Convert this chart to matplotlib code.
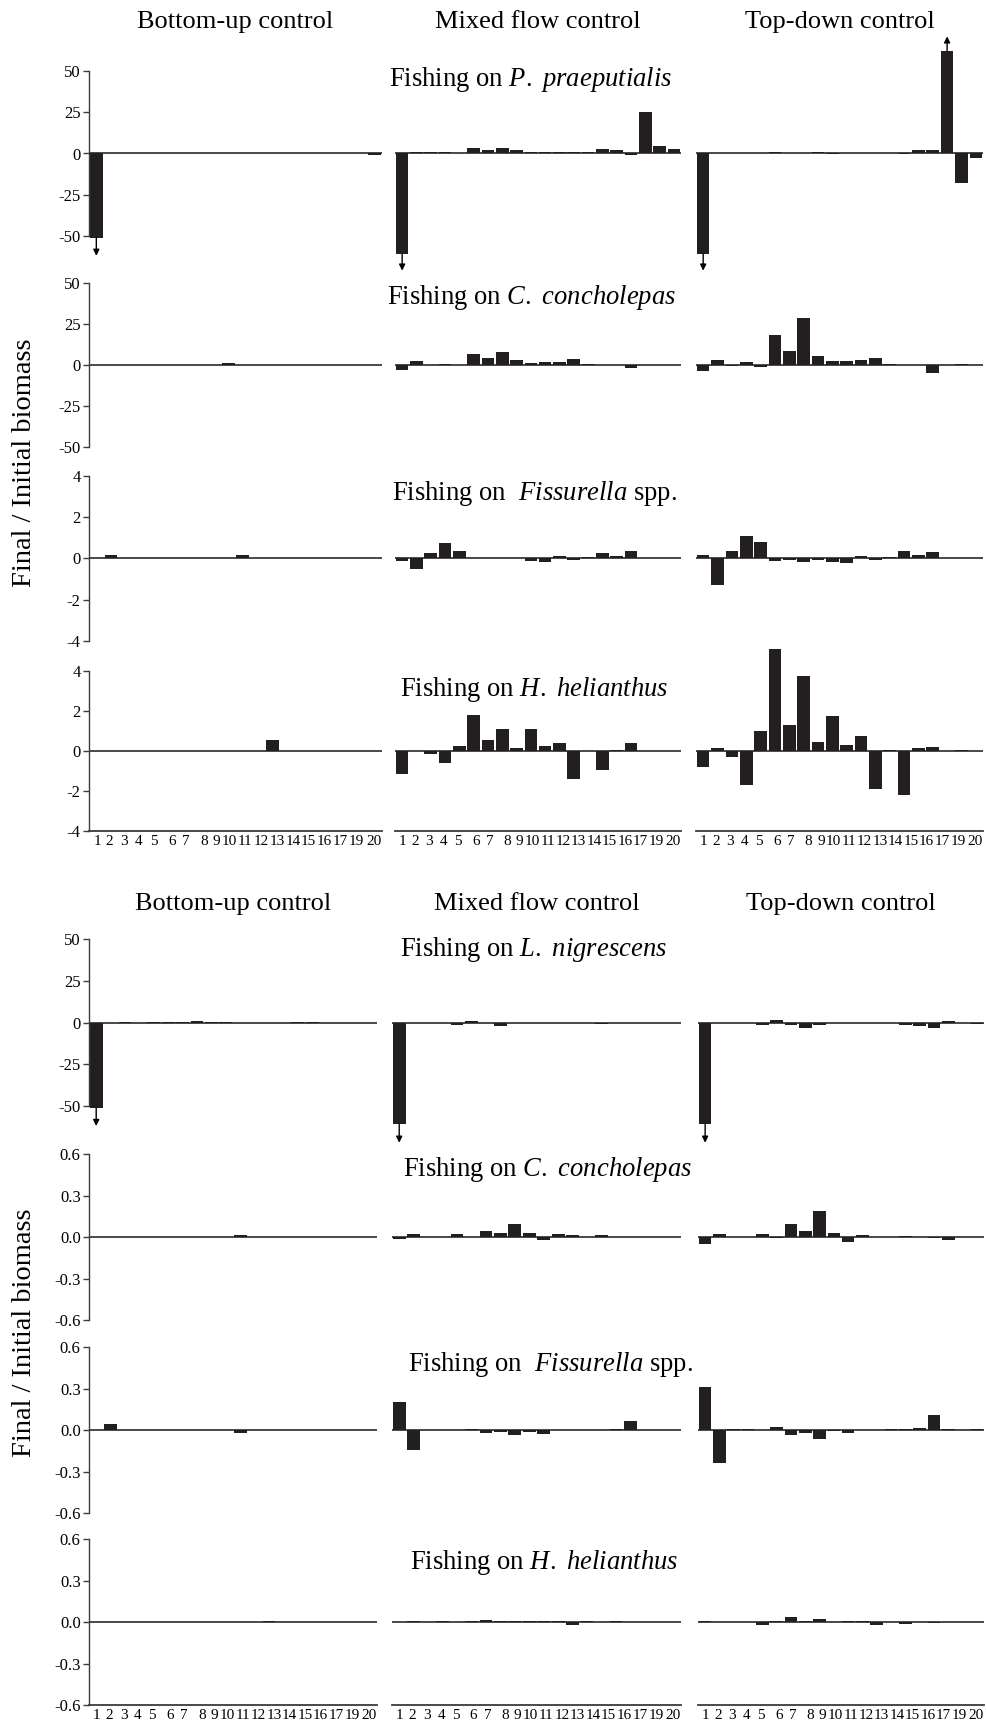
import numpy as np
import matplotlib.pyplot as plt

plt.rcParams['font.family'] = 'Liberation Serif'
plt.rcParams['mathtext.fontset'] = 'custom'
plt.rcParams['mathtext.rm'] = 'Liberation Serif'
plt.rcParams['mathtext.it'] = 'Liberation Serif:italic'

W, H = 986, 1726

# species index (20 slots) and the typed labels under the axis (no 18)
species = np.arange(1, 21)
xlabels = ['1', '2', '3', '4', '5', '6', '7', '8', '9', '10', '11', '12',
           '13', '14', '15', '16', '17', '19', '20']
xlabel_pos = [1.05, 1.9, 2.9, 3.9, 4.9, 6.15, 7.1, 8.35, 9.2, 10.1, 11.18,
              12.26, 13.34, 14.42, 15.5, 16.58, 17.66, 18.76, 19.92]

columns = ['Bottom-up control', 'Mixed flow control', 'Top-down control']

# ---- upper block: fishing on P. praeputialis, C. concholepas, Fissurella, H. helianthus
bu_prae = [-51, 0, 0, 0, 0, 0, 0, 0, 0, 0, 0, 0, 0, 0, 0, 0, 0, 0, 0, -0.8]
mf_prae = [-61, 1, 1, 1, 0, 3.5, 2, 3.5, 2, 1, 1, 1, 1, 1, 2.5, 2, -1, 25, 4.5, 2.5]
td_prae = [-61, 0, 0, 0, 0, 0.8, 0, 0, 0.8, -0.5, 0, 0, 0, 0, -0.6, 2, 2, 62, -18, -2.5]

bu_conch = [0, 0, 0, 0, 0, 0, 0, 0, 0, 1.5, 0, 0, 0, 0, 0, 0, 0, 0, 0, 0]
mf_conch = [-2.8, 2.2, 0, 0.6, 0, 6.5, 4.5, 8, 3, 1, 1.8, 1.8, 3.4, 0.8, 0, 0, -2, 0, 0, 0]
td_conch = [-3.4, 2.9, -0.7, 1.8, -1.5, 18, 8.6, 28.5, 5.2, 2.5, 2.5, 2.9, 4.5, 0.9, 0, 0, -5, 0, 0.9, 0]

bu_fiss = [0, 0.15, 0, 0, 0, 0, 0, 0, 0, 0, 0.15, 0, 0, 0, 0, 0, 0, 0, 0, 0]
mf_fiss = [-0.13, -0.53, 0.28, 0.75, 0.34, 0, 0, 0, 0, -0.13, -0.19, 0.13, -0.06, 0.08, 0.28, 0.13, 0.34, 0, 0, 0]
td_fiss = [0.17, -1.3, 0.36, 1.08, 0.8, -0.1, -0.05, -0.15, -0.05, -0.15, -0.22, 0.13, -0.05, 0.06, 0.36, 0.19, 0.3, 0, 0, 0]

bu_heli = [0, 0, 0, 0, 0, 0, 0, 0, 0, 0, 0, 0, 0.55, 0, 0, 0, 0, 0, 0, 0]
mf_heli = [-1.14, 0, -0.15, -0.6, 0.23, 1.8, 0.53, 1.1, 0.13, 1.1, 0.23, 0.42, -1.42, 0, -0.95, 0.06, 0.38, 0, 0, 0]
td_heli = [-0.79, 0.13, -0.32, -1.69, 0.99, 5.1, 1.28, 3.75, 0.43, 1.74, 0.32, 0.75, -1.91, 0.06, -2.2, 0.13, 0.19, 0, 0.06, 0]

# ---- lower block: fishing on L. nigrescens, C. concholepas, Fissurella, H. helianthus
bu_nigr = [-51, 0, 0.5, 0, 0.4, 0.4, 0.4, 1.0, 0.5, 0.5, -0.5, 0, 0, 0, 0.5, 0.5, 0, 0, 0, 0]
mf_nigr = [-61, 0, 0, 0, -1.6, 1.0, -0.5, -1.8, -0.5, -0.5, -0.5, -0.5, 0, 0, -1.0, -0.5, -0.5, 0, 0, -0.5]
td_nigr = [-61, 0, 0, 0, -1.5, 1.5, -1.2, -3.5, -1.2, -0.5, -0.5, -0.5, 0, 0, -1.5, -2.2, -3, 0.6, 0, -0.8]

bu_conch2 = [0, 0, 0, 0, 0, 0, 0, 0, 0, 0, 0.012, 0, 0, 0, 0, 0, 0, 0, 0, 0]
mf_conch2 = [-0.015, 0.02, 0, 0, 0.02, 0, 0.042, 0.028, 0.095, 0.028, -0.025, 0.02, 0.011, 0, 0.011, 0, 0, 0, 0, 0]
td_conch2 = [-0.05, 0.022, 0, 0, 0.022, -0.01, 0.092, 0.042, 0.19, 0.031, -0.035, 0.017, 0, 0, 0.008, 0, -0.006, -0.02, 0, 0]

bu_fiss2 = [0, 0.04, 0, 0, 0, 0, 0, 0, 0, 0, -0.025, 0, 0, 0, 0, 0, 0, 0, 0, 0]
mf_fiss2 = [0.2, -0.147, 0, 0, 0, 0.006, -0.02, -0.013, -0.035, -0.013, -0.03, 0, 0, 0, 0, 0.008, 0.064, 0, 0, 0]
td_fiss2 = [0.31, -0.235, 0.006, 0.006, 0, 0.025, -0.035, -0.02, -0.068, -0.01, -0.025, 0, 0, 0.006, 0.006, 0.015, 0.105, 0.006, 0, 0.006]

bu_heli2 = [0, 0, 0, 0, 0, 0, 0, 0, 0, 0, 0, 0, 0.006, 0, 0, 0, 0, 0, 0, 0]
mf_heli2 = [0, 0.006, 0, 0.006, 0, 0.006, 0.012, 0.006, 0.01, 0.006, 0.006, 0.006, -0.02, 0.006, 0, 0.006, 0, 0, 0, 0]
td_heli2 = [0.01, 0, 0, 0, -0.02, 0.01, 0.035, 0.01, 0.022, 0, 0.008, 0.008, -0.025, 0, -0.018, 0, -0.01, 0, 0, 0]

# off-scale bars get an arrow: (column, species, arrow tip value)
prae_arrows = [(0, 1, -62), (1, 1, -71), (2, 1, -71), (2, 18, 71)]
nigr_arrows = [(0, 1, -62), (1, 1, -72), (2, 1, -72)]

# y tick sets
ticks_big = [-50, -25, 0, 25, 50]
ticks_mid = [-4, -2, 0, 2, 4]
ticks_small = [-0.6, -0.3, 0.0, 0.3, 0.6]
lab_big = ['-50', '-25', '0', '25', '50']
lab_mid = ['-4', '-2', '0', '2', '4']
lab_small = ['-0.6', '-0.3', '0.0', '0.3', '0.6']

upper = [
    ('Fishing on $\\mathit{P.}$ $\\mathit{praeputialis}$', [bu_prae, mf_prae, td_prae], ticks_big, lab_big, prae_arrows),
    ('Fishing on $\\mathit{C.}$ $\\mathit{concholepas}$', [bu_conch, mf_conch, td_conch], ticks_big, lab_big, []),
    ('Fishing on  $\\mathit{Fissurella}$ spp.', [bu_fiss, mf_fiss, td_fiss], ticks_mid, lab_mid, []),
    ('Fishing on $\\mathit{H.}$ $\\mathit{helianthus}$', [bu_heli, mf_heli, td_heli], ticks_mid, lab_mid, []),
]
lower = [
    ('Fishing on $\\mathit{L.}$ $\\mathit{nigrescens}$', [bu_nigr, mf_nigr, td_nigr], ticks_big, lab_big, nigr_arrows),
    ('Fishing on $\\mathit{C.}$ $\\mathit{concholepas}$', [bu_conch2, mf_conch2, td_conch2], ticks_small, lab_small, []),
    ('Fishing on  $\\mathit{Fissurella}$ spp.', [bu_fiss2, mf_fiss2, td_fiss2], ticks_small, lab_small, []),
    ('Fishing on $\\mathit{H.}$ $\\mathit{helianthus}$', [bu_heli2, mf_heli2, td_heli2], ticks_small, lab_small, []),
]

# layout in pixels
col_x_up = [(89, 382), (395, 681), (696, 983)]
col_x_lo = [(89, 377), (392, 681), (698, 984)]
rows_up = [(71, 236), (283, 447), (476, 641), (671, 831)]
rows_lo = [(939, 1106), (1154, 1320), (1347, 1513), (1539, 1705)]
title_y_up = [80, 297, 493, 690]
title_y_lo = [950, 1169, 1364, 1562]
title_x_up = [531, 532, 534, 534]
title_x_lo = [533, 548, 550, 544]
head_y = [22, 904]
ylabel_y = [463, 1333]

bar_color = '#231f20'
line_color = '#3a3a3a'

fig = plt.figure(figsize=(W / 100, H / 100), dpi=100)


def add_ax(x0, x1, ytop, ybot):
    return fig.add_axes([x0 / W, 1 - ybot / H, (x1 - x0) / W, (ybot - ytop) / H])


blocks = [(upper, col_x_up, rows_up, title_y_up, title_x_up),
          (lower, col_x_lo, rows_lo, title_y_lo, title_x_lo)]

for b, (panels, colx, rows, ty, tx) in enumerate(blocks):
    for c, name in enumerate(columns):
        fig.text((colx[c][0] + colx[c][1]) / 2 / W, 1 - head_y[b] / H, name,
                 ha='center', va='center', fontsize=19)
    fig.text(25 / W, 1 - ylabel_y[b] / H, 'Final / Initial biomass', rotation=90,
             ha='center', va='center', fontsize=20.5)

    for r, (title, series, yt, yl, arrows) in enumerate(panels):
        last = r == len(panels) - 1
        for c in range(3):
            ax = add_ax(colx[c][0], colx[c][1], rows[r][0], rows[r][1])
            vals = np.array(series[c])
            ax.axhline(0, color=line_color, lw=1.3, zorder=1)
            ax.bar(species, vals, width=0.88, color=bar_color, linewidth=0,
                   clip_on=False, zorder=2)
            for ac, sp, tip in arrows:
                if ac == c:
                    ax.annotate('', xy=(sp, tip), xytext=(sp, vals[sp - 1]),
                                arrowprops=dict(arrowstyle='-|>', color='black', lw=1.0,
                                                mutation_scale=9, shrinkA=0, shrinkB=0),
                                annotation_clip=False)
            ax.set_xlim(0.5, 20.5)
            ax.set_ylim(yt[0], yt[-1])
            for s in ['top', 'right']:
                ax.spines[s].set_visible(False)
            if c == 0:
                ax.spines['left'].set_bounds(yt[0], yt[-1])
                ax.spines['left'].set_color(line_color)
                ax.spines['left'].set_linewidth(1.0)
                ax.set_yticks(yt, yl)
                ax.tick_params(axis='y', direction='out', length=4, width=1.0,
                               color=line_color, labelsize=12, pad=2)
            else:
                ax.spines['left'].set_visible(False)
                ax.set_yticks([])
            if last:
                ax.spines['bottom'].set_color(line_color)
                ax.spines['bottom'].set_linewidth(1.3)
                ax.set_xticks(xlabel_pos, xlabels)
                ax.tick_params(axis='x', length=0, labelsize=11, pad=3)
            else:
                ax.spines['bottom'].set_visible(False)
                ax.set_xticks([])
            ax.patch.set_visible(False)
        fig.text(tx[r] / W, 1 - ty[r] / H, title, ha='center', va='center', fontsize=19.2)

fig.savefig('out.png', dpi=100)
